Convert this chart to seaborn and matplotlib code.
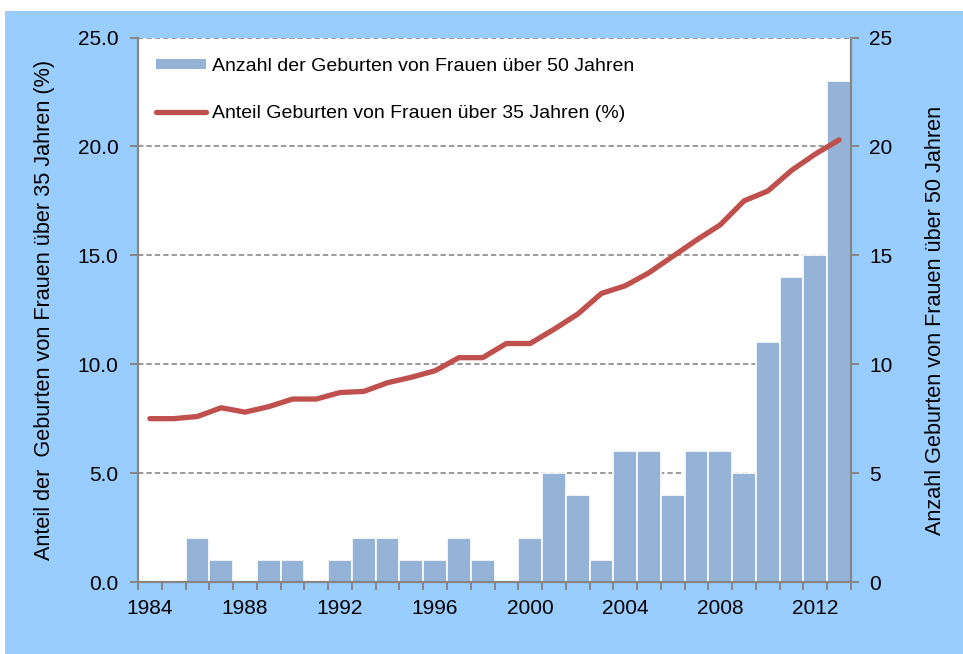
import numpy as np
import pandas as pd
import matplotlib
matplotlib.use("Agg")
import matplotlib.pyplot as plt
from matplotlib.patches import Rectangle
from matplotlib.lines import Line2D
import seaborn as sns

years = list(range(1984, 2014))
births_over_50 = [0, 0, 2, 1, 0, 1, 1, 0, 1, 2, 2, 1, 1, 2, 1, 0, 2, 5, 4, 1,
                  6, 6, 4, 6, 6, 5, 11, 14, 15, 23]
share_over_35 = [7.5, 7.5, 7.6, 8.0, 7.8, 8.05, 8.4, 8.4, 8.7, 8.75, 9.15, 9.4,
                 9.7, 10.3, 10.3, 10.95, 10.95, 11.6, 12.3, 13.25, 13.6, 14.2,
                 14.95, 15.7, 16.4, 17.5, 17.95, 18.9, 19.65, 20.3]
year_labels = ["1984", "1988", "1992", "1996", "2000", "2004", "2008", "2012"]

bar_label = "Anzahl der Geburten von Frauen über 50 Jahren"
line_label = "Anteil Geburten von Frauen über 35 Jahren (%)"

df = pd.DataFrame({"year": years, "count": births_over_50, "share": share_over_35})
df["pos"] = np.arange(len(df))

sns.set_style("white")
plt.rcParams["font.family"] = ["Liberation Sans", "DejaVu Sans"]
plt.rcParams["text.color"] = "black"
plt.rcParams["axes.labelcolor"] = "black"
plt.rcParams["xtick.labelcolor"] = "black"
plt.rcParams["ytick.labelcolor"] = "black"

bar_col = "#95B3D7"
line_col = "#C0504D"
grey = "#868686"

fig = plt.figure(figsize=(9.63, 6.54), dpi=100, facecolor="white")
fig.patches.append(Rectangle((5 / 963, 0), 1, 1 - 11 / 654, transform=fig.transFigure,
                             facecolor="#99CCFF", edgecolor="none", zorder=-5))

ax_bar = fig.add_axes([138 / 963, 72 / 654, 713 / 963, 544.5 / 654])
ax_line = ax_bar.twinx()

# bars on the back axis (right scale), line on the front axis (left scale)
sns.barplot(data=df, x="pos", y="count", color=bar_col, saturation=1, width=1.0,
            edgecolor="white", linewidth=1.2, ax=ax_bar, zorder=2)
sns.lineplot(data=df, x="pos", y="share", color=line_col, linewidth=3.8,
             ax=ax_line, zorder=3, solid_capstyle="round")

ax_line.set_zorder(ax_bar.get_zorder() + 1)
ax_line.patch.set_visible(False)
ax_bar.set_facecolor("white")

for ax in (ax_bar, ax_line):
    ax.set_xlim(-0.5, len(years) - 0.5)
    ax.set_ylim(0, 25)
    ax.set_xlabel("")
    ax.set_ylabel("")
    for s in ax.spines.values():
        s.set_visible(False)

# bar axis: right side
ax_bar.yaxis.tick_right()
ax_bar.yaxis.set_label_position("right")
ax_bar.set_yticks([0, 5, 10, 15, 20, 25])
ax_bar.set_yticklabels(["0", "5", "10", "15", "20", "25"])
ax_bar.set_ylabel("Anzahl Geburten von Frauen über 50 Jahren", fontsize=15.6)
ax_bar.yaxis.set_label_coords(1.104, 0.481)
ax_bar.yaxis.grid(True, linestyle=(0, (3.5, 2)), color="#7F7F7F", linewidth=1.1)
ax_bar.set_axisbelow(True)
for k in ("right", "bottom", "left"):
    ax_bar.spines[k].set_visible(True)
    ax_bar.spines[k].set_color(grey)
    ax_bar.spines[k].set_linewidth(1.6)
ax_bar.tick_params(axis="y", which="major", right=True, left=False, direction="out",
                   length=6, width=1.4, color=grey, labelsize=15, pad=7)

# x axis
tick_pos = [years.index(int(y)) for y in year_labels]
ax_bar.set_xticks(tick_pos)
ax_bar.set_xticklabels(year_labels)
ax_bar.set_xticks(np.arange(-0.5, len(years)), minor=True)
ax_bar.tick_params(axis="x", which="major", length=0, labelsize=15, pad=12)
ax_bar.tick_params(axis="x", which="minor", bottom=True, direction="out",
                   length=6, width=1.4, color=grey)

# line axis: left side
ax_line.yaxis.tick_left()
ax_line.yaxis.set_label_position("left")
ax_line.set_yticks([0, 5, 10, 15, 20, 25])
ax_line.set_yticklabels([f"{v:.1f}" for v in [0, 5, 10, 15, 20, 25]])
ax_line.set_ylabel("Anteil der  Geburten von Frauen über 35 Jahren (%)", fontsize=15.6,
                   labelpad=16)
ax_line.tick_params(axis="y", left=True, right=False, direction="out", length=6,
                    width=1.4, color=grey, labelsize=15, pad=8)
ax_line.tick_params(axis="x", bottom=False, top=False, labelbottom=False, labeltop=False)

handles = [Rectangle((0, 0), 1, 1, facecolor=bar_col, edgecolor="none"),
           Line2D([0], [0], color=line_col, linewidth=3.8, solid_capstyle="round")]
ax_line.legend(handles, [bar_label, line_label], loc="upper left", frameon=False,
               fontsize=14, handlelength=2.6, handleheight=0.45, handletextpad=0.3,
               labelspacing=1.55, bbox_to_anchor=(0.0, 0.995), borderaxespad=0.5)

fig.savefig("out.png", dpi=100, facecolor=fig.get_facecolor())
